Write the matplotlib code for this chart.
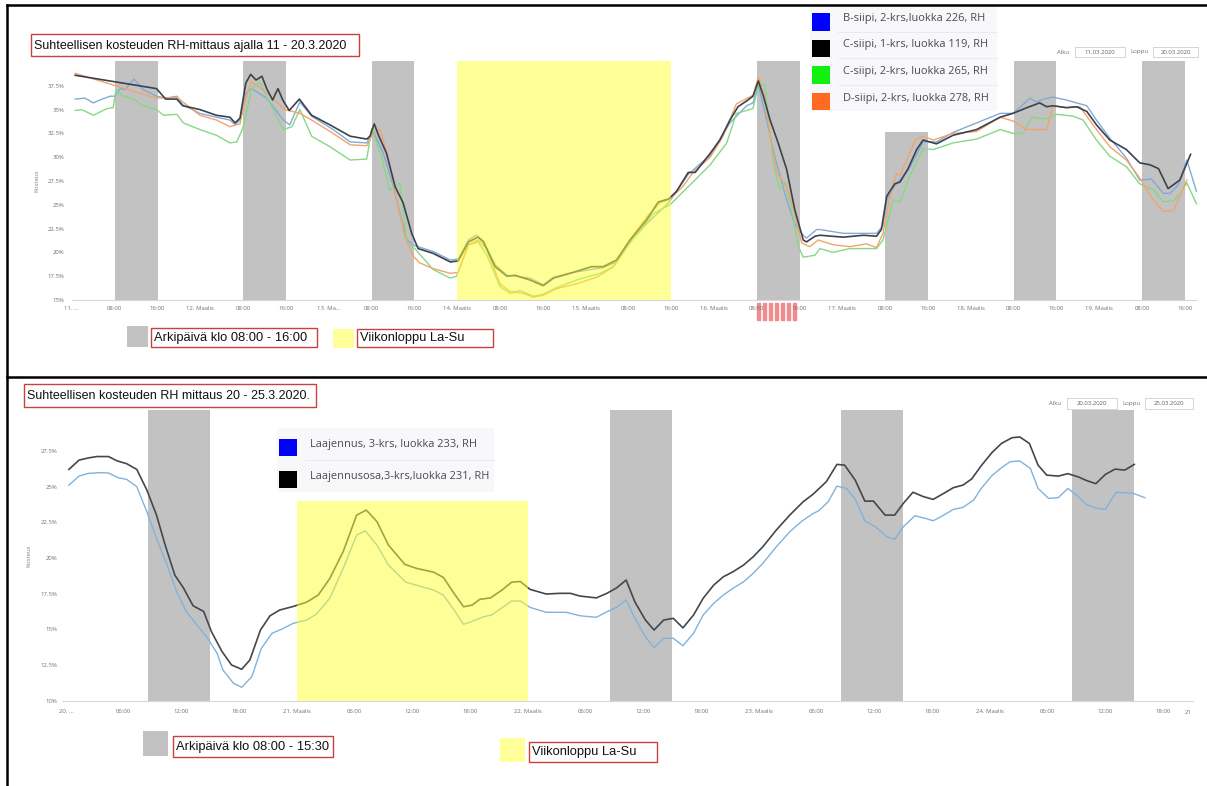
import matplotlib
matplotlib.use("Agg")
import matplotlib.pyplot as plt
from matplotlib.patches import Rectangle
from matplotlib.transforms import blended_transform_factory

W, H = 1207, 786

# ---- top chart: hours from 11.3.2020 00:00, RH in %
b226_h = [0.6, 2.4, 4.0, 5.2, 7.1, 8.0, 9.0, 9.9, 11.6, 13.3, 15.8, 17.7, 19.6, 20.7, 23.9, 27.0, 29.5, 30.5,
          31.4, 32.5, 33.6, 36.4, 39.5, 40.7, 42.6, 44.8, 48.8, 52.0, 55.1, 56.3, 58.2, 60.1, 61.3, 62.6, 64.1,
          67.5, 70.7, 72.2, 74.1, 75.6, 76.9, 79.1, 81.3, 85.6, 88.1, 90.0, 93.7, 99.3, 101.8, 104.3, 107.4,
          111.5, 115.2, 119.3, 123.0, 126.1, 127.3, 128.3, 129.8, 131.4, 133.6, 135.1, 136.7, 137.3, 139.2,
          139.8, 144.2, 150.4, 151.6, 152.3, 153.8, 156.3, 159.1, 161.6, 164.7, 173.5, 175.9, 179.1, 180.3,
          181.6, 183.4, 185.9, 187.8, 189.7, 191.5, 194.0, 197.1, 199.6, 201.8, 204.0, 205.3, 206.8, 208.4, 210.2]
b226_v = [36.1, 36.2, 35.7, 36.0, 36.4, 36.4, 37.2, 37.1, 38.2, 37.1, 36.4, 36.2, 36.4, 35.5, 34.6, 34.2, 33.9, 33.4,
          33.9, 36.7, 37.2, 36.2, 33.9, 33.4, 35.8, 34.3, 32.9, 31.6, 31.5, 32.7, 30.4, 26.9, 24.1, 21.3, 20.7,
          20.1, 19.2, 19.3, 21.3, 21.8, 21.2, 18.7, 17.6, 17.3, 16.6, 17.4, 17.9, 18.4, 19.0, 21.1, 23.0,
          25.2, 28.2, 30.2, 33.6, 35.4, 35.7, 37.6, 34.0, 30.0, 25.5, 23.0, 21.8, 21.5, 22.4,
          22.4, 22.0, 22.0, 22.8, 25.5, 27.0, 28.6, 31.6, 31.6, 32.6, 34.6, 34.6, 36.2, 35.8,
          36.1, 36.3, 36.0, 35.7, 35.4, 33.9, 32.0, 29.9, 27.6, 27.7, 26.2, 26.2, 27.1, 29.7, 26.4]

c119_h = [0.6, 15.8, 17.5, 19.6, 20.7, 23.9, 27.0, 29.5, 30.5, 31.4, 32.5, 33.4, 34.4, 35.5, 36.4, 37.5, 38.5,
          39.4, 40.6, 42.5, 44.8, 48.2, 52.0, 55.1, 55.7, 56.5, 57.3, 58.8, 60.4, 61.9, 63.5, 64.7, 67.5, 70.7,
          72.2, 74.1, 75.9, 76.9, 79.1, 81.3, 82.8, 85.6, 88.1, 90.0, 93.7, 97.1, 99.3, 101.8, 104.3, 107.4,
          109.6, 111.5, 113.0, 115.2, 116.5, 119.3, 121.1, 123.0, 124.5, 126.1, 127.3, 128.3, 129.2, 130.5,
          132.0, 133.6, 135.1, 136.7, 137.3, 138.9, 139.8, 144.2, 147.9, 150.4, 151.3, 152.3, 153.8, 154.8,
          156.3, 157.9, 159.1, 161.6, 164.7, 169.1, 173.5, 175.9, 178.5, 180.9, 182.2, 183.4, 185.9, 187.8,
          189.7, 191.5, 194.0, 197.1, 199.6, 201.5, 203.1, 204.9, 207.1, 209.1]
c119_v = [38.6, 37.2, 36.1, 36.1, 35.4, 35.0, 34.4, 34.2, 33.6, 34.1, 37.8, 38.7, 38.1, 38.5, 37.2, 36.0, 37.2,
          36.0, 34.9, 36.1, 34.4, 33.4, 32.2, 31.9, 32.2, 33.5, 32.3, 30.4, 26.9, 25.2, 22.0, 20.4, 19.9, 19.0,
          19.1, 21.1, 21.6, 21.1, 18.5, 17.5, 17.6, 17.1, 16.5, 17.3, 17.9, 18.5, 18.5, 19.2, 21.3, 23.4,
          25.3, 25.6, 26.4, 28.4, 28.4, 30.4, 31.8, 33.9, 35.3, 35.9, 36.4, 38.0, 36.5, 33.9,
          31.5, 28.7, 24.5, 21.3, 21.1, 21.7, 21.8, 21.6, 21.8, 21.7, 22.4, 25.9, 27.2, 27.4,
          28.8, 30.8, 31.8, 31.4, 32.3, 32.9, 34.2, 34.6, 35.2, 35.7, 35.3, 35.4, 35.2, 35.3,
          34.8, 33.4, 31.8, 30.8, 29.4, 29.2, 28.8, 26.7, 27.6, 30.3]

c265_h = [0.6, 1.8, 4.0, 6.5, 7.7, 8.2, 9.6, 11.5, 13.3, 15.8, 17.1, 19.6, 20.8, 23.9, 27.0, 29.5, 30.8, 31.9,
          33.6, 35.1, 37.6, 39.5, 41.1, 42.6, 44.8, 48.2, 52.0, 55.1, 56.0, 57.9, 59.4, 61.3, 62.6, 64.1, 67.5,
          70.7, 71.9, 74.1, 75.9, 77.5, 80.0, 81.9, 83.7, 86.2, 88.1, 90.6, 94.3, 98.7, 101.2, 104.3, 108.7,
          111.8, 114.3, 116.1, 119.3, 122.4, 124.2, 127.3, 128.3, 129.5, 131.1, 132.3, 133.3, 134.5, 135.8,
          136.7, 138.9, 139.8, 142.3, 145.4, 150.4, 151.6, 153.5, 154.8, 156.6, 159.1, 161.0, 164.7, 169.1,
          173.5, 175.9, 177.8, 179.4, 182.2, 184.1, 187.2, 189.0, 191.5, 194.0, 197.1, 199.6, 202.1, 204.0,
          205.9, 207.1, 208.4, 210.2]
c265_v = [34.9, 35.0, 34.4, 35.1, 35.2, 37.0, 36.4, 36.1, 35.4, 35.0, 34.4, 34.5, 33.6, 32.9, 32.3, 31.5, 31.6, 33.0,
          37.2, 37.9, 35.0, 32.9, 33.2, 35.0, 32.2, 31.1, 29.7, 29.8, 33.0, 30.0, 26.5, 27.3, 21.0, 20.4, 18.2,
          17.3, 17.5, 20.8, 21.1, 19.8, 16.4, 15.7, 16.0, 15.4, 15.6, 16.3, 17.1, 17.8, 18.5, 21.0, 24.1,
          25.0, 26.4, 27.4, 29.2, 31.5, 34.6, 35.1, 37.6, 37.6, 29.4, 26.6, 27.4, 24.5, 20.6,
          19.5, 19.7, 20.4, 20.0, 20.4, 20.4, 21.3, 25.5, 25.3, 28.0, 30.9, 30.8, 31.5, 31.9,
          32.9, 32.5, 32.5, 34.2, 34.0, 34.5, 34.3, 33.9, 31.8, 30.1, 29.0, 27.2, 26.6, 25.3,
          25.4, 26.1, 27.3, 25.1]

d278_h = [0.6, 15.8, 19.6, 23.9, 27.0, 29.5, 31.4, 32.5, 33.6, 36.4, 39.8, 42.6, 44.8, 48.8, 52.0, 55.1, 56.3,
          57.6, 59.1, 60.7, 62.2, 63.8, 65.0, 67.5, 70.7, 72.2, 74.1, 75.9, 77.5, 80.0, 81.9, 84.4, 86.2, 88.1,
          90.6, 94.3, 98.1, 101.2, 104.3, 107.4, 109.9, 111.8, 114.3, 116.1, 119.3, 121.7, 124.2, 127.3, 128.3,
          129.5, 130.5, 131.7, 133.6, 135.1, 136.4, 137.9, 139.5, 142.3, 145.4, 148.5, 150.4, 151.6, 152.9,
          154.1, 154.8, 156.6, 157.6, 159.1, 161.0, 164.7, 169.1, 173.5, 175.9, 178.5, 182.2, 183.4, 185.9,
          188.4, 191.5, 194.0, 197.1, 199.6, 202.1, 204.0, 205.9, 208.4]
d278_v = [38.8, 36.2, 36.3, 34.4, 33.9, 33.2, 33.5, 36.3, 37.9, 36.8, 35.0, 34.6, 33.9, 32.5, 31.3, 31.2, 32.5,
          32.9, 30.0, 25.5, 21.7, 19.6, 18.9, 18.3, 17.8, 17.9, 20.8, 21.3, 20.4, 16.7, 15.9, 15.7, 15.3, 15.5,
          16.2, 16.7, 17.4, 18.5, 21.3, 23.7, 25.2, 25.6, 27.0, 28.4, 30.0, 32.2, 35.6, 36.5, 38.4,
          36.3, 32.3, 28.4, 26.9, 24.1, 21.0, 20.6, 21.3, 20.8, 20.6, 20.9, 20.5, 22.0, 25.8,
          28.3, 28.1, 30.4, 31.8, 32.2, 31.8, 32.5, 32.7, 34.2, 33.8, 32.9, 32.9, 35.4, 35.2,
          35.3, 32.9, 31.1, 29.7, 27.8, 25.5, 24.3, 24.4, 27.6]

top_names = ["B-siipi, 2-krs,luokka 226, RH", "C-siipi, 1-krs, luokka 119, RH",
             "C-siipi, 2-krs, luokka 265, RH", "D-siipi, 2-krs, luokka 278, RH"]
top_work_days = [0, 1, 2, 5, 6, 7, 8]
top_band_tops = [40.1, 40.1, 40.1, 40.1, 32.6, 40.1, 40.1]
top_weekend = (72, 112)
top_marked_day = 5
top_tick_labels = ["11. ...", "08:00", "16:00", "12. Maalis", "08:00", "16:00", "13. Ma...", "08:00", "16:00",
                   "14. Maalis", "08:00", "16:00", "15. Maalis", "08:00", "16:00", "16. Maalis", "08:00", "16:00",
                   "17. Maalis", "08:00", "16:00", "18. Maalis", "08:00", "16:00", "19. Maalis", "08:00", "16:00"]

# ---- bottom chart: hours from 20.3.2020 00:00
l233_h = [0.3, 1.35, 2.3, 3.5, 4.4, 5.4, 6.3, 7.35, 8.4, 9.4, 10.5, 11.5, 12.5, 13.6, 14.6, 15.7, 16.3, 17.4,
          18.25, 19.3, 20.3, 21.4, 22.6, 23.6, 25.0, 26.0, 27.4, 28.8, 30.2, 31.1, 32.3, 33.5, 35.3, 38.2, 39.2,
          40.2, 41.3, 42.3, 43.4, 44.2, 45.3, 46.3, 47.2, 48.2, 49.9, 52.0, 53.4, 55.1, 56.2, 57.2, 58.2, 59.1,
          60.2, 61.1, 62.1, 63.1, 64.1, 65.2, 66.2, 67.3, 68.3, 69.3, 70.4, 71.4, 72.4, 73.8, 75.2, 76.5, 77.6,
          78.2, 79.2, 80.1, 81.1, 82.0, 83.0, 84.1, 85.3, 86.1, 87.0, 88.2, 89.3, 90.1, 91.2, 92.2, 93.2, 94.3,
          95.1, 96.2, 97.2, 98.1, 99.1, 100.2, 101.0, 102.1, 103.1, 104.1, 105.2, 106.0, 107.1, 108.0, 109.1,
          110.0, 110.9, 112.1]
l233_v = [25.1, 25.73, 25.92, 25.97, 25.95, 25.62, 25.5, 24.99, 23.23, 21.37, 19.5, 17.63, 16.23, 15.3, 14.48,
          13.32, 12.15, 11.22, 10.94, 11.68, 13.67, 14.72, 15.07, 15.42, 15.65, 16.05, 17.17, 19.27, 21.6, 21.9,
          20.9, 19.5, 18.3, 17.75, 17.4, 16.47, 15.35, 15.58, 15.88, 16.0, 16.51, 16.98, 16.98, 16.54, 16.19,
          16.19, 15.95, 15.84, 16.23, 16.54, 17.05, 15.77, 14.48, 13.71, 14.37, 14.37, 13.85, 14.72, 16.0, 16.82,
          17.4, 17.87, 18.33, 18.92, 19.62, 20.78, 21.83, 22.6, 23.1, 23.3, 23.94, 25.03, 24.87, 24.12, 22.6,
          22.18, 21.48, 21.3, 22.18, 22.95, 22.77, 22.6, 23.0, 23.4, 23.54, 24.05, 24.87, 25.76, 26.32, 26.74,
          26.79, 26.27, 24.87, 24.17, 24.22, 24.87, 24.29, 23.75, 23.47, 23.42, 24.59, 24.57, 24.52, 24.22]

l231_h = [0.3, 1.35, 2.3, 3.2, 4.4, 5.3, 6.3, 7.35, 8.4, 9.4, 10.3, 11.3, 12.2, 13.2, 14.3, 15.1, 16.2, 17.2,
          18.25, 19.1, 20.2, 21.2, 22.2, 23.6, 25.0, 26.2, 27.4, 28.8, 30.2, 31.2, 32.3, 33.5, 35.2, 36.4, 38.2,
          39.2, 40.2, 41.3, 42.2, 43.0, 44.1, 45.3, 46.3, 47.2, 48.2, 49.9, 51.3, 52.4, 53.4, 55.1, 56.2, 57.2,
          58.2, 59.1, 60.2, 61.1, 62.1, 63.1, 64.1, 65.2, 66.2, 67.3, 68.3, 69.3, 70.4, 71.4, 72.4, 73.8, 75.2,
          76.6, 77.6, 78.0, 79.0, 80.1, 80.9, 82.0, 83.0, 83.9, 85.1, 86.1, 87.0, 88.0, 89.1, 90.1, 91.2, 92.2,
          93.2, 94.1, 95.1, 96.2, 97.2, 98.3, 99.1, 100.1, 101.0, 101.9, 103.1, 104.1, 105.2, 106.0, 107.0,
          108.0, 109.0, 110.0, 111.0]
l231_v = [26.2, 26.85, 27.0, 27.1, 27.1, 26.8, 26.6, 26.2, 24.75, 23.0, 20.9, 18.8, 17.9, 16.65, 16.25, 14.85,
          13.45, 12.5, 12.2, 12.85, 14.95, 15.95, 16.35, 16.6, 16.9, 17.4, 18.55, 20.45, 23.0, 23.35, 22.55, 20.9,
          19.55, 19.27, 19.0, 18.64, 17.63, 16.58, 16.7, 17.1, 17.2, 17.75, 18.3, 18.35, 17.8, 17.47, 17.52,
          17.52, 17.33, 17.2, 17.52, 17.9, 18.45, 16.93, 15.65, 14.95, 15.65, 15.77, 15.1, 16.0, 17.17, 18.1,
          18.68, 19.03, 19.5, 20.08, 20.78, 21.95, 23.0, 23.94, 24.45, 24.7, 25.34, 26.55, 26.5, 25.45, 23.98,
          23.98, 23.0, 23.0, 23.82, 24.6, 24.29, 24.1, 24.52, 24.92, 25.1, 25.53, 26.46, 27.37, 28.02, 28.42,
          28.47, 28.02, 26.5, 25.8, 25.73, 25.9, 25.67, 25.43, 25.2, 25.85, 26.22, 26.15, 26.55]

bottom_names = ["Laajennus, 3-krs, luokka 233, RH", "Laajennusosa,3-krs,luokka 231, RH"]
bottom_work_days = [0, 2, 3, 4]
bottom_band_hours = (8.5, 15.0)
bottom_weekend = (24, 48)
bottom_weekend_top = 24.0
bottom_tick_labels = ["20. ...", "06:00", "12:00", "18:00", "21. Maalis", "06:00", "12:00", "18:00",
                      "22. Maalis", "06:00", "12:00", "18:00", "23. Maalis", "06:00", "12:00", "18:00",
                      "24. Maalis", "06:00", "12:00", "18:00"]

GRAY = '#c2c2c2'
YELLOW = (1.0, 1.0, 0.2)
RED = '#c84040'

plt.rcParams['font.family'] = ['Open Sans', 'DejaVu Sans']

fig = plt.figure(figsize=(W / 100, H / 100), dpi=100)


def add_axes_px(x0, y0, x1, y1):
    return fig.add_axes([x0 / W, 1 - y1 / H, (x1 - x0) / W, (y1 - y0) / H])


def style_axes(ax, ylab_x):
    for s in ['top', 'right', 'left']:
        ax.spines[s].set_visible(False)
    ax.spines['bottom'].set_color('#d6d8e0')
    ax.spines['bottom'].set_linewidth(0.8)
    ax.tick_params(length=0, labelsize=4.3, labelcolor='#707070')
    ax.set_ylabel('Kosteus', fontsize=4.3, color='#808080')
    ax.yaxis.set_label_coords(ylab_x, 0.5)
    ax.set_facecolor('none')


# ---------------- top chart
ax1 = add_axes_px(72, 61, 1197, 300)
ax1.set_xlim(0, 210.3)
ax1.set_ylim(15, 40.1)
ax1.bar([d * 24 + 8 for d in top_work_days], [t - 15 for t in top_band_tops], width=8, bottom=15,
        align='edge', color=GRAY, linewidth=0, zorder=1)
ax1.plot(b226_h, b226_v, color='#82aad6', lw=1.0, zorder=2)
ax1.plot(c265_h, c265_v, color='#86d886', lw=1.0, zorder=2)
ax1.plot(d278_h, d278_v, color='#f2a46c', lw=1.0, zorder=2)
ax1.plot(c119_h, c119_v, color='#3c434c', lw=1.2, zorder=2)
ax1.bar(top_weekend[0], 40.1 - 15, width=top_weekend[1] - top_weekend[0], bottom=15, align='edge',
        color=YELLOW, alpha=0.5, linewidth=0, zorder=3)
ax1.set_xticks([8 * i for i in range(len(top_tick_labels))])
ax1.set_xticklabels(top_tick_labels)
ax1.set_yticks([15 + 2.5 * i for i in range(10)])
ax1.set_yticklabels(['15%', '17.5%', '20%', '22.5%', '25%', '27.5%', '30%', '32.5%', '35%', '37.5%'])
style_axes(ax1, -0.029)
ax1.tick_params(axis='x', pad=4)
ax1.tick_params(axis='y', pad=5.5)

# red/white striped mark under the 16.3. band
trans = blended_transform_factory(ax1.transData, ax1.transAxes)
period = 8 / 7
for i in range(7):
    ax1.add_patch(Rectangle((top_marked_day * 24 + 8 + i * period, -0.085), period * 0.5, 0.072,
                            transform=trans, color='#f08c8c', clip_on=False, zorder=0))

# ---------------- bottom chart
ax2 = add_axes_px(62, 410, 1193, 700.7)
ax2.set_xlim(-0.42, 117.1)
ax2.set_ylim(10, 30.36)
ax2.bar([d * 24 + bottom_band_hours[0] for d in bottom_work_days], 30.36 - 10,
        width=bottom_band_hours[1] - bottom_band_hours[0], bottom=10, align='edge',
        color=GRAY, linewidth=0, zorder=1)
ax2.plot(l233_h, l233_v, color='#82b2da', lw=1.0, zorder=2)
ax2.plot(l231_h, l231_v, color='#43484e', lw=1.2, zorder=2)
ax2.bar(bottom_weekend[0], bottom_weekend_top - 10, width=bottom_weekend[1] - bottom_weekend[0], bottom=10,
        align='edge', color=YELLOW, alpha=0.5, linewidth=0, zorder=3)
ax2.set_xticks([6 * i for i in range(len(bottom_tick_labels))])
ax2.set_xticklabels(bottom_tick_labels)
ax2.set_yticks([10 + 2.5 * i for i in range(8)])
ax2.set_yticklabels(['10%', '12.5%', '15%', '17.5%', '20%', '22.5%', '25%', '27.5%'])
style_axes(ax2, -0.027)
ax2.tick_params(axis='x', pad=6)
ax2.tick_params(axis='y', pad=3.5)

# ---------------- overlay in pixel coordinates
ov = fig.add_axes([0, 0, 1, 1])
ov.set_xlim(0, W)
ov.set_ylim(H, 0)
ov.axis('off')
ov.set_zorder(5)

ov.plot([7, W], [5, 5], color='black', lw=1.8)
ov.plot([7, 7], [5, H], color='black', lw=1.8)
ov.plot([7, W], [377, 377], color='black', lw=1.8)


def red_box(x0, y0, x1, y1, text, fs=9.3):
    ov.add_patch(Rectangle((x0, y0), x1 - x0, y1 - y0, fill=False, edgecolor=RED, lw=1.0))
    ov.text(x0 + 3, (y0 + y1) / 2 + 0.5, text, family='Liberation Sans', fontsize=fs,
            va='center', ha='left', color='#111111')


def square(x0, y0, size_w, size_h, color):
    ov.add_patch(Rectangle((x0, y0), size_w, size_h, facecolor=color, edgecolor='none'))


def date_boxes(y0, y1, lab1_x, box1, lab2_x, box2, d1, d2):
    yc = (y0 + y1) / 2
    for lx, lab in ((lab1_x, 'Alku'), (lab2_x, 'Loppu')):
        ov.text(lx, yc, lab, fontsize=4.3, color='#707070', ha='center', va='center')
    for (bx0, bx1), d in ((box1, d1), (box2, d2)):
        ov.add_patch(Rectangle((bx0, y0), bx1 - bx0, y1 - y0, fill=False, edgecolor='#d4d4d4', lw=0.7))
        ov.text((bx0 + bx1) / 2, yc, d, fontsize=4.3, color='#606060', ha='center', va='center')


def series_legend(x0, x1, rows_y, names, colors, fs):
    row_h = rows_y[1] - rows_y[0]
    top = rows_y[0] - row_h / 2
    bottom = rows_y[-1] + row_h / 2
    ov.add_patch(Rectangle((x0 + 2, top), x1 - x0 - 2, bottom - top, facecolor='#f8f8fb', edgecolor='none'))
    for i, (yc, name, col) in enumerate(zip(rows_y, names, colors)):
        square(x0 + 4, yc - 8 + 2.5, 18, 17.5, col)
        ov.text(x0 + 35, yc, name, fontsize=fs, color='#4a4a4a', ha='left', va='center')
        if i < len(rows_y) - 1:
            ov.plot([x0 + 30, x1], [yc + row_h / 2, yc + row_h / 2], color='#e6e8ee', lw=0.6)


# top panel texts
red_box(31, 34, 359, 56, "Suhteellisen kosteuden RH-mittaus ajalla 11 - 20.3.2020", 9.0)
series_legend(808, 997, [18.5, 45, 71.5, 98], top_names, ['#0000ff', '#000000', '#12f012', '#ff6a20'], 7.9)
date_boxes(47, 57, 1063, (1075, 1125), 1139, (1153, 1198), "11.03.2020", "20.03.2020")
square(127, 326, 21, 21, GRAY)
red_box(151, 328, 317, 347, "Arkipäivä klo 08:00 - 16:00")
square(333, 329, 21, 19, '#ffff99')
red_box(357, 329, 493, 347, "Viikonloppu La-Su")

# bottom panel texts
red_box(24, 384, 316, 407, "Suhteellisen kosteuden RH mittaus 20 - 25.3.2020.", 9.0)
series_legend(275, 494, [444, 476], bottom_names, ['#0000ff', '#000000'], 7.9)
date_boxes(398, 409, 1055, (1067, 1117), 1131, (1145, 1193), "20.03.2020", "25.03.2020")
ov.text(1188, 712, "21", fontsize=4.3, color='#707070', ha='center', va='center')
square(143, 731, 25, 25, GRAY)
red_box(173, 736, 333, 757, "Arkipäivä klo 08:00 - 15:30")
square(500, 738, 25, 24, '#ffff99')
red_box(529, 742, 657, 762, "Viikonloppu La-Su")

fig.savefig('out.png', dpi=100, facecolor='white')
